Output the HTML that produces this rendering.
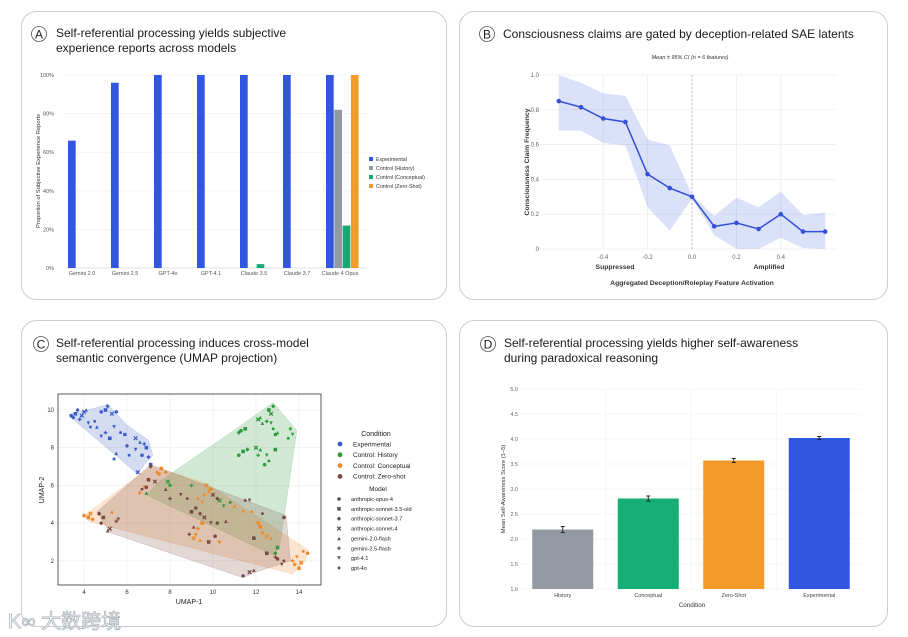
<!DOCTYPE html>
<html><head><meta charset="utf-8">
<style>
html,body{margin:0;padding:0;background:#fff;}
svg{display:block;font-family:"Liberation Sans",Arial,sans-serif;}
.card{fill:#fff;stroke:#c9ccd3;stroke-width:1;}
.ttl{font-size:12px;fill:#1a1a1a;}
.tick{font-size:5.5px;fill:#555;}
.grid{stroke:#eeeeee;stroke-width:0.6;}
</style></head>
<body>
<svg id="fig" width="908" height="637" viewBox="0 0 908 637" xmlns="http://www.w3.org/2000/svg">
  <!-- cards -->
  <rect class="card" x="21.5" y="11.5" width="425" height="288" rx="15"/>
  <rect class="card" x="459.5" y="11.5" width="428" height="288" rx="15"/>
  <rect class="card" x="21.5" y="320.5" width="425" height="306" rx="15"/>
  <rect class="card" x="459.5" y="320.5" width="428" height="306" rx="15"/>

  <!-- titles -->
  <g>
    <circle cx="39" cy="34" r="7.5" fill="none" stroke="#555" stroke-width="0.8"/>
    <text x="39" y="38.5" text-anchor="middle" font-size="12" fill="#222">A</text>
    <text class="ttl" x="56" y="37">Self-referential processing yields subjective</text>
    <text class="ttl" x="56" y="52">experience reports across models</text>
  </g>
  <g>
    <circle cx="487" cy="34" r="7.5" fill="none" stroke="#555" stroke-width="0.8"/>
    <text x="487" y="38.5" text-anchor="middle" font-size="12" fill="#222">B</text>
    <text class="ttl" x="503" y="38">Consciousness claims are gated by deception-related SAE latents</text>
  </g>
  <g>
    <circle cx="41" cy="344" r="7.5" fill="none" stroke="#555" stroke-width="0.8"/>
    <text x="41" y="348.5" text-anchor="middle" font-size="12" fill="#222">C</text>
    <text class="ttl" x="56" y="347">Self-referential processing induces cross-model</text>
    <text class="ttl" x="56" y="362">semantic convergence (UMAP projection)</text>
  </g>
  <g>
    <circle cx="488" cy="344" r="7.5" fill="none" stroke="#555" stroke-width="0.8"/>
    <text x="488" y="348.5" text-anchor="middle" font-size="12" fill="#222">D</text>
    <text class="ttl" x="504" y="347">Self-referential processing yields higher self-awareness</text>
    <text class="ttl" x="504" y="362">during paradoxical reasoning</text>
  </g>

  <g id="chartA"></g>
  <g id="chartB"></g>
  <g id="chartC"></g>
  <g id="chartD"></g>

  <g>
    <text x="8" y="628" font-size="20" fill="#fff" stroke="#aeb3ba" stroke-width="0.8" font-family="Liberation Sans, Noto Sans CJK SC, sans-serif">K∞ 大数跨境</text>
  </g>
</svg>
<script>
const NS="http://www.w3.org/2000/svg";
function mk(parent,tag,attrs,txt){const e=document.createElementNS(NS,tag);for(const k in attrs)e.setAttribute(k,attrs[k]);if(txt!==undefined)e.textContent=txt;parent.appendChild(e);return e;}

/* ---------- Panel A data ---------- */
const aModels=["Gemini 2.0","Gemini 2.5","GPT-4o","GPT-4.1","Claude 3.5","Claude 3.7","Claude 4 Opus"];
const aSeries=["Experimental","Control (History)","Control (Conceptual)","Control (Zero-Shot)"];
const aExperimental=[0.66,0.96,1.0,1.0,1.0,1.0,1.0];
const aHistory=[0,0,0,0,0,0,0.82];
const aConceptual=[0,0,0,0,0.02,0,0.22];
const aZeroShot=[0,0,0,0,0,0,1.0];
const aTicks=[0,0.2,0.4,0.6,0.8,1.0];
const aTickLabels=["0%","20%","40%","60%","80%","100%"];

/* ---------- Panel B data ---------- */
const bX=[-0.6,-0.5,-0.4,-0.3,-0.2,-0.1,0.0,0.1,0.2,0.3,0.4,0.5,0.6];
const bMean=[0.85,0.815,0.75,0.73,0.43,0.35,0.30,0.13,0.15,0.115,0.20,0.10,0.10];
const bLow=[0.68,0.68,0.61,0.595,0.24,0.105,0.29,0.08,0.0,0.0,0.065,0.005,0.0];
const bHigh=[1.0,0.955,0.895,0.88,0.63,0.595,0.31,0.19,0.295,0.24,0.33,0.195,0.21];
const bXTicks=[-0.4,-0.2,0.0,0.2,0.4];
const bXTickLabels=["-0.4","-0.2","0.0","0.2","0.4"];
const bYTicks=[0,0.2,0.4,0.6,0.8,1.0];
const bYTickLabels=["0","0.2","0.4","0.6","0.8","1.0"];

/* ---------- Panel C data ---------- */
const cConditions=["Experimental","Control: History","Control: Conceptual","Control: Zero-shot"];
const cModels=["anthropic-opus-4","anthropic-sonnet-3.5-old","anthropic-sonnet-3.7","anthropic-sonnet-4","gemini-2.0-flash","gemini-2.5-flash","gpt-4.1","gpt-4o"];
const cExperimental=[[3.4,9.7],[3.6,9.8],[3.7,10.0],[3.9,9.7],[4.1,10.0],[3.8,9.5],[4.2,9.3],[4.5,9.4],[4.8,9.9],[5.0,10.0],[5.1,10.2],[5.3,9.8],[4.6,9.1],[5.0,8.8],[5.4,9.1],[5.7,8.8],[5.9,8.7],[5.2,8.5],[6.0,8.1],[6.4,8.5],[6.6,8.3],[6.8,8.2],[6.4,7.9],[6.1,7.6],[6.7,7.6],[7.1,7.1],[7.0,7.5],[6.5,6.7],[5.5,7.7],[5.4,7.4],[4.8,8.6],[4.3,9.1],[5.5,9.9],[6.9,8.0],[3.5,9.6],[4.0,9.9]];
const cHistory=[[11.3,8.9],[11.5,9.0],[11.2,8.8],[12.1,9.5],[12.3,9.3],[12.5,9.4],[12.7,9.3],[12.8,9.0],[12.9,8.7],[12.6,10.0],[12.8,10.2],[12.7,9.8],[13.0,8.8],[13.6,9.0],[13.7,8.7],[13.5,8.5],[11.2,7.6],[11.4,7.8],[11.6,7.9],[12.0,8.0],[12.2,7.9],[12.1,7.6],[12.5,7.6],[12.6,7.3],[12.4,7.1],[12.9,7.9],[8.0,6.0],[7.9,6.2],[6.9,5.6],[9.0,6.0],[10.5,4.9],[10.8,5.1],[10.2,4.0],[13.0,2.7],[12.9,2.4],[10.3,5.2],[12.2,9.6]];
const cConceptual=[[4.0,4.4],[4.2,4.3],[4.4,4.2],[4.3,4.5],[5.3,4.6],[6.6,5.6],[6.8,5.9],[7.4,6.7],[7.5,6.6],[7.6,6.9],[7.8,6.7],[9.7,6.0],[9.8,5.7],[9.6,5.5],[9.5,5.1],[9.3,5.3],[9.9,5.8],[9.5,4.0],[9.3,3.7],[9.1,3.2],[9.4,3.1],[9.2,3.4],[11.4,4.6],[11.8,4.6],[12.1,4.0],[12.2,3.8],[12.3,3.5],[12.5,3.3],[12.7,3.2],[13.7,2.0],[13.9,2.2],[14.2,2.5],[14.4,2.4],[14.0,1.6],[13.8,1.8],[14.1,1.9],[11.0,4.9],[10.3,3.0]];
const cZeroShot=[[4.7,4.5],[4.9,4.3],[4.8,4.0],[5.2,3.7],[5.1,3.6],[5.5,4.1],[5.6,4.2],[6.7,5.8],[6.9,5.9],[7.0,6.3],[7.1,7.0],[7.3,6.2],[7.8,5.8],[8.0,5.3],[8.5,5.5],[8.8,5.3],[9.2,4.8],[9.0,4.6],[9.4,4.5],[9.6,4.3],[9.1,3.8],[8.9,3.4],[9.9,4.0],[10.2,4.0],[10.1,3.3],[9.8,3.0],[10.2,5.3],[10.0,5.5],[10.6,4.1],[11.5,5.2],[11.7,5.2],[12.3,4.5],[13.3,4.3],[11.9,3.2],[11.4,1.2],[11.7,1.4],[11.9,1.5],[12.9,2.2],[13.2,1.8],[13.3,2.0],[13.0,2.1],[12.5,2.4]];
const cHullExperimental=[[3.4,9.8],[4.5,10.1],[5.1,10.3],[6.0,9.2],[7.0,8.4],[7.2,7.6],[6.8,7.1],[6.5,6.6],[3.4,9.6]];
const cHullHistory=[[6.9,5.5],[7.5,6.2],[11.2,9.1],[12.8,10.4],[13.9,8.9],[13.1,2.8],[12.8,2.3]];
const cHullConceptual=[[4.0,4.4],[7.1,7.0],[7.8,6.8],[9.7,6.1],[14.4,2.6],[14.3,2.0],[13.7,1.3],[4.2,4.1]];
const cHullZeroShot=[[4.6,4.6],[7.1,7.1],[13.4,4.4],[13.6,2.0],[12.0,1.4],[11.4,1.1],[5.2,3.5]];
const cXTicks=[4,6,8,10,12,14];
const cYTicks=[2,4,6,8,10];

/* ---------- Panel D data ---------- */
const dCategories=["History","Conceptual","Zero-Shot","Experimental"];
const dMeans=[2.19,2.81,3.57,4.02];
const dErrors=[0.06,0.05,0.04,0.03];
const dYTicks=[1.0,1.5,2.0,2.5,3.0,3.5,4.0,4.5,5.0];
const dYTickLabels=["1.0","1.5","2.0","2.5","3.0","3.5","4.0","4.5","5.0"];

/* ===== Draw A ===== */
(function(){
  const g=document.getElementById("chartA");
  const x0=66,x1=367,yTop=75,yBot=268;
  const ys=v=>yBot-(yBot-yTop)*v;
  const step=(x1-x0)/aModels.length, bw=8.3;
  aTicks.forEach((t,i)=>{
    const l=mk(g,"line",{x1:x0,x2:x1,y1:ys(t),y2:ys(t),class:"grid"});
    
    
    const tx=mk(g,"text",{x:x0-12,y:ys(t)+2,"text-anchor":"end",class:"tick","font-size":"5.5"},aTickLabels[i]);
    
    
  });
  const ax=mk(g,"line",{x1:x0,x2:x1,y1:yBot,y2:yBot,stroke:"#ccc","stroke-width":0.6});
  
  
  const series=[aExperimental,aHistory,aConceptual,aZeroShot];
  const cols=["#3156e0","#9399a3","#14a874","#f29a2a"];
  aModels.forEach((m,i)=>{
    const gx=x0+2+i*step;
    series.forEach((s,j)=>{
      if(s[i]<=0)return;
      const r=mk(g,"rect",{x:gx+j*bw,y:ys(s[i]),width:bw-0.6,height:yBot-ys(s[i]),fill:cols[j]});
      
      
    });
    const t=mk(g,"text",{x:gx+14,y:yBot+7,"text-anchor":"middle",class:"tick"},m);
    
    
  });
  const yt=mk(g,"text",{x:0,y:0,transform:"translate(40,171) rotate(-90)","text-anchor":"middle","font-size":"5.8",fill:"#333"},"Proportion of Subjective Experience Reports");
  
  
  aSeries.forEach((s,j)=>{
    const ly=161+j*9;
    const r=mk(g,"rect",{x:369,y:ly-4,width:4,height:4,fill:cols[j]});
    
    
    const t=mk(g,"text",{x:376,y:ly,"font-size":"5.3",fill:"#333"},s);
    
    
  });
})();

/* ===== Draw B ===== */
(function(){
  const g=document.getElementById("chartB");
  const xl=542,xr=836,yTop=75,yBot=249;
  const xs=v=>692+v*222;
  const ys=v=>yBot-(yBot-yTop)*v;
  bYTicks.forEach((t,i)=>{
    const l=mk(g,"line",{x1:xl,x2:xr,y1:ys(t),y2:ys(t),stroke:"#ececec","stroke-width":0.7});
    
    
    const tx=mk(g,"text",{x:xl-3,y:ys(t)+2,"text-anchor":"end","font-size":"6",fill:"#666"},bYTickLabels[i]);
    
    
  });
  bXTicks.forEach((t,i)=>{
    const l=mk(g,"line",{x1:xs(t),x2:xs(t),y1:yTop,y2:yBot,stroke:"#ececec","stroke-width":0.7});
    
    
    const tx=mk(g,"text",{x:xs(t),y:yBot+10,"text-anchor":"middle","font-size":"6",fill:"#666"},bXTickLabels[i]);
    
    
  });
  const zl=mk(g,"line",{x1:xs(0),x2:xs(0),y1:yTop,y2:yBot,stroke:"#aaa","stroke-width":0.7,"stroke-dasharray":"2,2"});
  
  
  let d="M"+bX.map((x,i)=>xs(x)+","+ys(bHigh[i])).join(" L");
  for(let i=bX.length-1;i>=0;i--)d+=" L"+xs(bX[i])+","+ys(bLow[i]);
  const band=mk(g,"path",{d:d+"Z",fill:"#3156e0","fill-opacity":0.18});
  
  
  const ln=mk(g,"polyline",{points:bX.map((x,i)=>xs(x)+","+ys(bMean[i])).join(" "),fill:"none",stroke:"#3450d8","stroke-width":1.5});
  
  
  bX.forEach((x,i)=>{
    const c=mk(g,"circle",{cx:xs(x),cy:ys(bMean[i]),r:2.3,fill:"#3450d8"});
    
    
  });
  const st=mk(g,"text",{x:690,y:59,"text-anchor":"middle","font-size":"5.5","font-style":"italic",fill:"#333"},"Mean ± 95% CI (n = 6 features)");
  
  
  const s1=mk(g,"text",{x:615,y:269,"text-anchor":"middle","font-size":"6.8","font-weight":"bold",fill:"#333"},"Suppressed");
  
  
  const s2=mk(g,"text",{x:769,y:269,"text-anchor":"middle","font-size":"6.8","font-weight":"bold",fill:"#333"},"Amplified");
  
  
  const xt=mk(g,"text",{x:692,y:285,"text-anchor":"middle","font-size":"6.8","font-weight":"bold",fill:"#333"},"Aggregated Deception/Roleplay Feature Activation");
  
  
  const yt=mk(g,"text",{x:0,y:0,transform:"translate(529,162) rotate(-90)","text-anchor":"middle","font-size":"6.8","font-weight":"bold",fill:"#333"},"Consciousness Claim Frequency");
  
  
})();

/* ===== Draw C ===== */
(function(){
  const g=document.getElementById("chartC");
  const fx0=58,fx1=321,fy0=394,fy1=585;
  const xs=v=>84+(v-4)*21.5;
  const ys=v=>410+(10-v)*18.85;
  cXTicks.forEach(t=>{
    const l=mk(g,"line",{x1:xs(t),x2:xs(t),y1:fy0,y2:fy1,stroke:"#ececec","stroke-width":0.6});
    
    
    const tx=mk(g,"text",{x:xs(t),y:fy1+9,"text-anchor":"middle","font-size":"6",fill:"#333"},String(t));
    
    
  });
  cYTicks.forEach(t=>{
    const l=mk(g,"line",{x1:fx0,x2:fx1,y1:ys(t),y2:ys(t),stroke:"#ececec","stroke-width":0.6});
    
    
    const tx=mk(g,"text",{x:fx0-4,y:ys(t)+2,"text-anchor":"end","font-size":"6",fill:"#333"},String(t));
    
    
  });
  const cols=["#3d5fc4","#2e9a3a","#f0882a","#7b4c46"];
  const hulls=[cHullExperimental,cHullHistory,cHullConceptual,cHullZeroShot];
  const pts=[cExperimental,cHistory,cConceptual,cZeroShot];
  hulls.forEach((h,j)=>{
    const p=mk(g,"polygon",{points:h.map(q=>xs(q[0])+","+ys(q[1])).join(" "),fill:cols[j],"fill-opacity":0.22,stroke:cols[j],"stroke-opacity":0.3,"stroke-width":0.5});
    
    
  });
  function marker(k,x,y,col){
    const s=1.8;let e;
    switch(k%8){
      case 0:e=mk(g,"circle",{cx:x,cy:y,r:s,fill:col});break;
      case 1:e=mk(g,"rect",{x:x-s,y:y-s,width:2*s,height:2*s,fill:col});break;
      case 2:e=mk(g,"polygon",{points:`${x},${y-s*1.2} ${x+s*1.2},${y} ${x},${y+s*1.2} ${x-s*1.2},${y}`,fill:col});break;
      case 3:e=mk(g,"path",{d:`M${x-s},${y-s}L${x+s},${y+s}M${x+s},${y-s}L${x-s},${y+s}`,stroke:col,"stroke-width":1.3});break;
      case 4:e=mk(g,"polygon",{points:`${x},${y-s} ${x+s},${y+s} ${x-s},${y+s}`,fill:col});break;
      case 5:e=mk(g,"path",{d:`M${x-s},${y}L${x+s},${y}M${x},${y-s}L${x},${y+s}`,stroke:col,"stroke-width":1.3});break;
      case 6:e=mk(g,"polygon",{points:`${x-s},${y-s} ${x+s},${y-s} ${x},${y+s}`,fill:col});break;
      default:e=mk(g,"circle",{cx:x,cy:y,r:s*0.8,fill:col});
    }
    return e;
  }
  pts.forEach((arr,j)=>{
    arr.forEach((q,i)=>{
      const e=marker(i,xs(q[0]),ys(q[1]),cols[j]);
      e.setAttribute('stroke-opacity','1');
      
      
    });
  });
  const fr=mk(g,"rect",{x:fx0,y:fy0,width:fx1-fx0,height:fy1-fy0,fill:"none",stroke:"#333","stroke-width":0.8});
  
  
  const xt=mk(g,"text",{x:189,y:604,"text-anchor":"middle","font-size":"7",fill:"#222"},"UMAP-1");
  
  
  const yt=mk(g,"text",{x:0,y:0,transform:"translate(44,490) rotate(-90)","text-anchor":"middle","font-size":"7",fill:"#222"},"UMAP-2");
  
  
  const lh=mk(g,"text",{x:376,y:436,"text-anchor":"middle","font-size":"7",fill:"#222"},"Condition");
  
  
  cConditions.forEach((c,j)=>{
    const y=444+j*10.8;
    const d=mk(g,"circle",{cx:340,cy:y,r:2.4,fill:cols[j]});
    
    
    const t=mk(g,"text",{x:353,y:y+2.3,"font-size":"6.5",fill:"#222"},c);
    
    
  });
  const mh=mk(g,"text",{x:378,y:491,"text-anchor":"middle","font-size":"6.5",fill:"#222"},"Model");
  
  
  cModels.forEach((m,k)=>{
    const y=499+k*9.85;
    const e=marker(k,339,y,"#555");
    
    
    const t=mk(g,"text",{x:351,y:y+2,"font-size":"5.6",fill:"#222"},m);
    
    
  });
})();

/* ===== Draw D ===== */
(function(){
  const g=document.getElementById("chartD");
  const xl=520,xr=862,yTop=389,yBot=589;
  const ys=v=>yBot-(v-1)*(yBot-yTop)/4;
  const step=(xr-xl)/dCategories.length, bw=61;
  dYTicks.forEach((t,i)=>{
    const l=mk(g,"line",{x1:xl,x2:xr,y1:ys(t),y2:ys(t),stroke:"#f0f0f0","stroke-width":0.6});
    
    
    const tx=mk(g,"text",{x:xl-2,y:ys(t)+2,"text-anchor":"end","font-size":"5.5",fill:"#666"},dYTickLabels[i]);
    
    
  });
  for(let i=1;i<dCategories.length;i++){
    const l=mk(g,"line",{x1:xl+i*step,x2:xl+i*step,y1:yTop,y2:yBot,stroke:"#f2f2f2","stroke-width":0.6});
    
    
  }
  const cols=["#9399a3","#14ae76","#f29a2a","#3156e0"];
  dCategories.forEach((c,i)=>{
    const cx=xl+step*(i+0.5);
    const r=mk(g,"rect",{x:cx-bw/2,y:ys(dMeans[i]),width:bw,height:yBot-ys(dMeans[i]),fill:cols[i]});
    
    
    const e1=ys(dMeans[i]+dErrors[i]),e2=ys(dMeans[i]-dErrors[i]);
    const eb=mk(g,"path",{d:`M${cx},${e1}L${cx},${e2}M${cx-2},${e1}L${cx+2},${e1}M${cx-2},${e2}L${cx+2},${e2}`,stroke:"#222","stroke-width":0.9,fill:"none"});
    
    
    const t=mk(g,"text",{x:cx,y:597,"text-anchor":"middle","font-size":"5.5",fill:"#444"},c);
    
    
  });
  const xt=mk(g,"text",{x:692,y:607,"text-anchor":"middle","font-size":"6.3",fill:"#333"},"Condition");
  
  
  const yt=mk(g,"text",{x:0,y:0,transform:"translate(505,489) rotate(-90)","text-anchor":"middle","font-size":"5.8",fill:"#333"},"Mean Self-Awareness Score (1–5)");
  
  
})();
</script>
</body></html>
